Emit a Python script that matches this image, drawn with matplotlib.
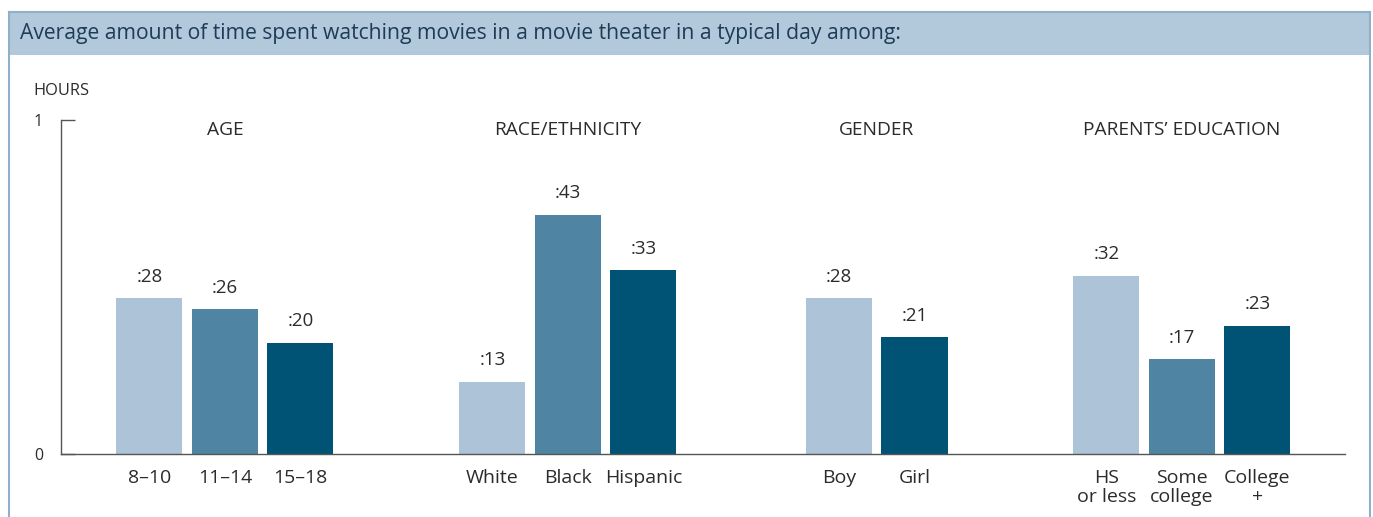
import matplotlib.pyplot as plt
from matplotlib.patches import Rectangle
from matplotlib.lines import Line2D

plt.rcParams['font.family'] = ['Open Sans', 'DejaVu Sans']

# data: minutes per day, by group
groups = ['AGE', 'RACE/ETHNICITY', 'GENDER', 'PARENTS\u2019 EDUCATION']
labels = [['8\u201310', '11\u201314', '15\u201318'],
          ['White', 'Black', 'Hispanic'],
          ['Boy', 'Girl'],
          ['HS\nor less', 'Some\ncollege', 'College\n+']]
minutes = [[28, 26, 20],
           [13, 43, 33],
           [28, 21],
           [32, 17, 23]]
group_start = [1.17, 5.71, 10.3, 13.84]

light = '#adc4d8'
mid = '#4f84a3'
dark = '#005374'
text_col = '#2b2b2b'

W, H = 1373, 517
fig = plt.figure(figsize=(W / 100, H / 100), dpi=100)

# outer frame + header band
fig.patches.append(Rectangle((9 / W, 1 - 55 / H), (1370 - 9) / W, 43 / H,
                             transform=fig.transFigure, facecolor='#b1c9da',
                             edgecolor='none', zorder=0))
for xs, ys in [([9, 9], [12, 517]), ([1370, 1370], [12, 517]), ([9, 1370], [12, 12])]:
    fig.lines.append(Line2D([x / W for x in xs], [1 - y / H for y in ys],
                            transform=fig.transFigure, color='#8fb0c8', lw=1.5))
fig.text(20 / W, 1 - 34 / H, 'Average amount of time spent watching movies in a movie theater in a typical day among:',
         fontsize=15.2, color='#1f3b57', va='center', ha='left')

ax = fig.add_axes([61 / W, 1 - 454 / H, (1345 - 61) / W, (454 - 120) / H])

ticks = []
ticklabels = []
for g, name in enumerate(groups):
    n = len(minutes[g])
    cols = [light, mid, dark] if n == 3 else [light, dark]
    xs = [group_start[g] + i for i in range(n)]
    for x, m, c, lab in zip(xs, minutes[g], cols, labels[g]):
        ax.bar(x, m / 60, width=0.875, color=c, zorder=2)
        ax.annotate(':%d' % m, (x, m / 60), xytext=(0, 9), textcoords='offset points',
                    ha='center', va='bottom', fontsize=13.5, color=text_col)
        ticks.append(x)
        ticklabels.append(lab)
    ax.text((xs[0] + xs[-1]) / 2, 0.97, name, ha='center', va='center',
            fontsize=13.8, color=text_col)

ax.set_xlim(0, 17.0)
ax.set_ylim(0, 1)
ax.set_xticks(ticks)
ax.set_xticklabels(ticklabels, fontsize=14, color=text_col, linespacing=1.05)
ax.tick_params(axis='x', length=0, pad=11)
ax.set_yticks([0, 1])
ax.set_yticklabels(['0', '1'], fontsize=11.5, color=text_col)
ax.tick_params(axis='y', direction='in', length=10, width=1, color='#555555', pad=13)
for s in ['top', 'right']:
    ax.spines[s].set_visible(False)
for s in ['left', 'bottom']:
    ax.spines[s].set_color('#555555')
    ax.spines[s].set_linewidth(1)
fig.text(33 / W, 1 - 91 / H, 'HOURS', fontsize=11.8, color=text_col, va='center', ha='left')

fig.savefig('out.png', dpi=100)
